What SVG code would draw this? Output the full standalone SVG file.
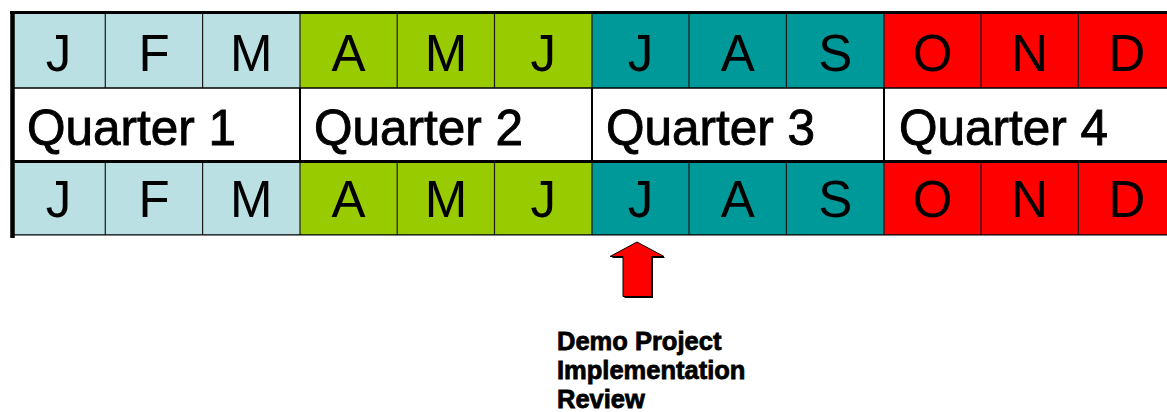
<svg xmlns="http://www.w3.org/2000/svg" width="1167" height="412" viewBox="0 0 1167 412">
  <style>
    .q1 { fill: #BBE0E3; }
    .q2 { fill: #99CC00; }
    .q3 { fill: #009999; }
    .q4 { fill: #FF0000; }
    .qrow { fill: #FFFFFF; }
    .mon { font-family: "Liberation Sans", Arial, sans-serif; font-size: 51px; fill: #000; text-anchor: middle; }
    .qtr { font-family: "Liberation Sans", Arial, sans-serif; font-size: 49.5px; fill: #000; stroke: #000; stroke-width: 0.9px; }
    .lbl { font-family: "Liberation Sans", Arial, sans-serif; font-size: 25.5px; font-weight: bold; fill: #000; stroke: #000; stroke-width: 0.8px; }
    .thin { stroke: #1A1A1A; stroke-width: 1.2; fill: none; }
    .frame { stroke: #000; fill: none; }
  </style>

  <rect x="0" y="0" width="1167" height="412" fill="#FFFFFF"/>

  <!-- Top month row -->
  <g id="row-top">
    <g id="top-jan"><rect class="q1" x="12" y="14" width="93.3" height="74"/><text class="mon" x="58.6" y="71">J</text></g>
    <g id="top-feb"><rect class="q1" x="105.3" y="14" width="97.3" height="74"/><text class="mon" x="154" y="71">F</text></g>
    <g id="top-mar"><rect class="q1" x="202.6" y="14" width="97.4" height="74"/><text class="mon" x="251.3" y="71">M</text></g>
    <g id="top-apr"><rect class="q2" x="300" y="14" width="97.2" height="74"/><text class="mon" x="348.6" y="71">A</text></g>
    <g id="top-may"><rect class="q2" x="397.2" y="14" width="97.3" height="74"/><text class="mon" x="445.9" y="71">M</text></g>
    <g id="top-jun"><rect class="q2" x="494.5" y="14" width="97.5" height="74"/><text class="mon" x="543.2" y="71">J</text></g>
    <g id="top-jul"><rect class="q3" x="592" y="14" width="97" height="74"/><text class="mon" x="640.5" y="71">J</text></g>
    <g id="top-aug"><rect class="q3" x="689" y="14" width="97.4" height="74"/><text class="mon" x="737.7" y="71">A</text></g>
    <g id="top-sep"><rect class="q3" x="786.4" y="14" width="97.6" height="74"/><text class="mon" x="835.2" y="71">S</text></g>
    <g id="top-oct"><rect class="q4" x="884" y="14" width="97" height="74"/><text class="mon" x="932.5" y="71">O</text></g>
    <g id="top-nov"><rect class="q4" x="981" y="14" width="97.3" height="74"/><text class="mon" x="1029.6" y="71">N</text></g>
    <g id="top-dec"><rect class="q4" x="1078.3" y="14" width="97.3" height="74"/><text class="mon" x="1127" y="71">D</text></g>
  </g>

  <!-- Quarter row -->
  <g id="row-quarters">
    <g id="quarter-1"><rect class="qrow" x="12" y="88" width="288" height="73"/><text class="qtr" x="27" y="145">Quarter 1</text></g>
    <g id="quarter-2"><rect class="qrow" x="300" y="88" width="292" height="73"/><text class="qtr" x="314" y="145">Quarter 2</text></g>
    <g id="quarter-3"><rect class="qrow" x="592" y="88" width="292" height="73"/><text class="qtr" x="606" y="145">Quarter 3</text></g>
    <g id="quarter-4"><rect class="qrow" x="884" y="88" width="291.6" height="73"/><text class="qtr" x="899" y="145">Quarter 4</text></g>
  </g>

  <!-- Bottom month row -->
  <g id="row-bottom">
    <g id="bot-jan"><rect class="q1" x="12" y="161" width="93.3" height="74"/><text class="mon" x="58.6" y="217">J</text></g>
    <g id="bot-feb"><rect class="q1" x="105.3" y="161" width="97.3" height="74"/><text class="mon" x="154" y="217">F</text></g>
    <g id="bot-mar"><rect class="q1" x="202.6" y="161" width="97.4" height="74"/><text class="mon" x="251.3" y="217">M</text></g>
    <g id="bot-apr"><rect class="q2" x="300" y="161" width="97.2" height="74"/><text class="mon" x="348.6" y="217">A</text></g>
    <g id="bot-may"><rect class="q2" x="397.2" y="161" width="97.3" height="74"/><text class="mon" x="445.9" y="217">M</text></g>
    <g id="bot-jun"><rect class="q2" x="494.5" y="161" width="97.5" height="74"/><text class="mon" x="543.2" y="217">J</text></g>
    <g id="bot-jul"><rect class="q3" x="592" y="161" width="97" height="74"/><text class="mon" x="640.5" y="217">J</text></g>
    <g id="bot-aug"><rect class="q3" x="689" y="161" width="97.4" height="74"/><text class="mon" x="737.7" y="217">A</text></g>
    <g id="bot-sep"><rect class="q3" x="786.4" y="161" width="97.6" height="74"/><text class="mon" x="835.2" y="217">S</text></g>
    <g id="bot-oct"><rect class="q4" x="884" y="161" width="97" height="74"/><text class="mon" x="932.5" y="217">O</text></g>
    <g id="bot-nov"><rect class="q4" x="981" y="161" width="97.3" height="74"/><text class="mon" x="1029.6" y="217">N</text></g>
    <g id="bot-dec"><rect class="q4" x="1078.3" y="161" width="97.3" height="74"/><text class="mon" x="1127" y="217">D</text></g>
  </g>

  <!-- Table rules -->
  <g id="grid">
    <path class="thin" d="M105.3 14V88 M202.6 14V88 M300 14V88 M397.2 14V88 M494.5 14V88 M592 14V88 M689 14V88 M786.4 14V88 M884 14V88 M981 14V88 M1078.3 14V88"/>
    <path class="thin" d="M105.3 161V235 M202.6 161V235 M300 161V235 M397.2 161V235 M494.5 161V235 M592 161V235 M689 161V235 M786.4 161V235 M884 161V235 M981 161V235 M1078.3 161V235"/>
    <path class="frame" stroke-width="2" d="M300 88V161 M592 88V161 M884 88V161"/>
    <path class="frame" stroke-width="1.5" d="M12 88H1167"/>
    <path class="frame" stroke-width="3" d="M12 161.5H1167"/>
    <path class="frame" stroke-width="1.2" d="M12 234.8H1167"/>
    <path class="frame" stroke-width="3" d="M10 12.5H1167"/>
    <path class="frame" stroke-width="4.5" d="M12.5 11V238"/>
  </g>

  <!-- Pointer from the review note up to July -->
  <g id="connectors">
    <polygon points="638.5,243.5 665.5,258 653,258 653,298 624.5,298 624.5,258 611.5,258" fill="#000"/>
    <polygon points="637,242 664,256.5 651.5,256.5 651.5,296.5 623,296.5 623,256.5 610,256.5" fill="#FF0000" stroke="#000" stroke-width="1"/>
  </g>

  <g id="review-note">
    <text class="lbl" x="557" y="350">Demo Project</text>
    <text class="lbl" x="557" y="379">Implementation</text>
    <text class="lbl" x="557" y="408">Review</text>
  </g>
</svg>
